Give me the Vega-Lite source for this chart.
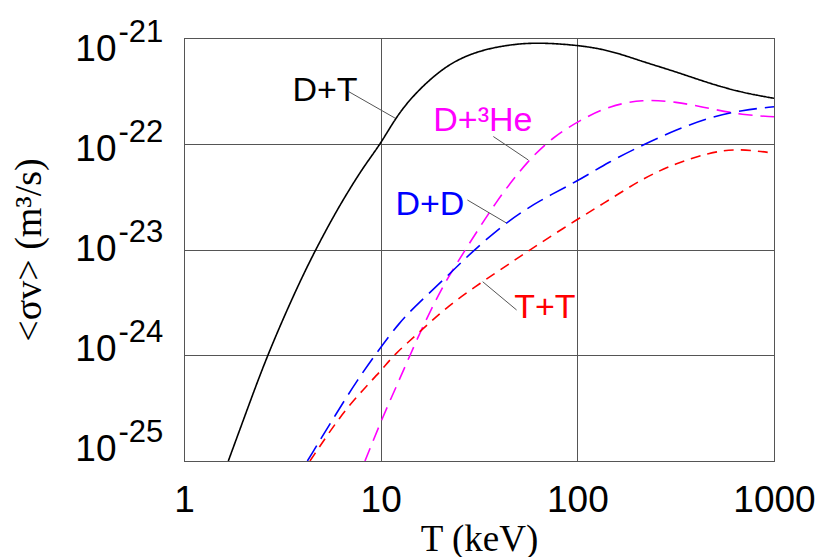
{
  "$schema": "https://vega.github.io/schema/vega-lite/v6.json",
  "width": 590,
  "height": 423,
  "autosize": {"type": "none"},
  "padding": {"left": 184, "top": 38, "right": 45, "bottom": 96},
  "background": "white",
  "config": {"view": {"stroke": "#222222", "strokeWidth": 1}},
  "datasets": {
    "curves": [
      {"reaction": "D+T", "T": 1.68, "sv": 1.0e-25},
      {"reaction": "D+T", "T": 2.10, "sv": 3.10e-25},
      {"reaction": "D+T", "T": 2.65, "sv": 1.0e-24},
      {"reaction": "D+T", "T": 3.70, "sv": 4.14e-24},
      {"reaction": "D+T", "T": 4.67, "sv": 1.0e-23},
      {"reaction": "D+T", "T": 5.79, "sv": 2.10e-23},
      {"reaction": "D+T", "T": 6.77, "sv": 3.44e-23},
      {"reaction": "D+T", "T": 8.23, "sv": 6.15e-23},
      {"reaction": "D+T", "T": 10.0, "sv": 1.0e-22},
      {"reaction": "D+T", "T": 11.8, "sv": 1.71e-22},
      {"reaction": "D+T", "T": 14.6, "sv": 2.89e-22},
      {"reaction": "D+T", "T": 21.7, "sv": 5.68e-22},
      {"reaction": "D+T", "T": 32.0, "sv": 7.69e-22},
      {"reaction": "D+T", "T": 47.2, "sv": 8.77e-22},
      {"reaction": "D+T", "T": 64.6, "sv": 9.04e-22},
      {"reaction": "D+T", "T": 99.0, "sv": 8.59e-22},
      {"reaction": "D+T", "T": 145, "sv": 7.69e-22},
      {"reaction": "D+T", "T": 215, "sv": 5.97e-22},
      {"reaction": "D+T", "T": 317, "sv": 4.80e-22},
      {"reaction": "D+T", "T": 469, "sv": 3.72e-22},
      {"reaction": "D+T", "T": 692, "sv": 3.04e-22},
      {"reaction": "D+T", "T": 1000, "sv": 2.69e-22},

      {"reaction": "D+3He", "T": 8.32, "sv": 1.0e-25},
      {"reaction": "D+3He", "T": 10.3, "sv": 2.67e-25},
      {"reaction": "D+3He", "T": 12.1, "sv": 5.21e-25},
      {"reaction": "D+3He", "T": 14.1, "sv": 1.0e-24},
      {"reaction": "D+3He", "T": 16.5, "sv": 1.93e-24},
      {"reaction": "D+3He", "T": 20.8, "sv": 4.60e-24},
      {"reaction": "D+3He", "T": 25.3, "sv": 8.24e-24},
      {"reaction": "D+3He", "T": 38.9, "sv": 2.93e-23},
      {"reaction": "D+3He", "T": 56.3, "sv": 7.01e-23},
      {"reaction": "D+3He", "T": 75.4, "sv": 1.16e-22},
      {"reaction": "D+3He", "T": 103, "sv": 1.67e-22},
      {"reaction": "D+3He", "T": 145, "sv": 2.28e-22},
      {"reaction": "D+3He", "T": 215, "sv": 2.63e-22},
      {"reaction": "D+3He", "T": 317, "sv": 2.50e-22},
      {"reaction": "D+3He", "T": 469, "sv": 2.16e-22},
      {"reaction": "D+3He", "T": 692, "sv": 1.87e-22},
      {"reaction": "D+3He", "T": 1000, "sv": 1.80e-22},

      {"reaction": "D+D", "T": 4.24, "sv": 1.0e-25},
      {"reaction": "D+D", "T": 6.02, "sv": 2.92e-25},
      {"reaction": "D+D", "T": 7.6, "sv": 5.81e-25},
      {"reaction": "D+D", "T": 9.55, "sv": 1.06e-24},
      {"reaction": "D+D", "T": 12.5, "sv": 2.07e-24},
      {"reaction": "D+D", "T": 15.8, "sv": 3.20e-24},
      {"reaction": "D+D", "T": 20.8, "sv": 5.13e-24},
      {"reaction": "D+D", "T": 28.5, "sv": 9.18e-24},
      {"reaction": "D+D", "T": 43.7, "sv": 1.83e-23},
      {"reaction": "D+D", "T": 64.6, "sv": 2.93e-23},
      {"reaction": "D+D", "T": 99.0, "sv": 4.37e-23},
      {"reaction": "D+D", "T": 145, "sv": 6.76e-23},
      {"reaction": "D+D", "T": 215, "sv": 9.73e-23},
      {"reaction": "D+D", "T": 317, "sv": 1.35e-22},
      {"reaction": "D+D", "T": 469, "sv": 1.78e-22},
      {"reaction": "D+D", "T": 692, "sv": 2.08e-22},
      {"reaction": "D+D", "T": 1000, "sv": 2.24e-22},

      {"reaction": "T+T", "T": 4.37, "sv": 1.0e-25},
      {"reaction": "T+T", "T": 6.26, "sv": 2.71e-25},
      {"reaction": "T+T", "T": 8.23, "sv": 4.84e-25},
      {"reaction": "T+T", "T": 10.3, "sv": 7.50e-25},
      {"reaction": "T+T", "T": 11.6, "sv": 1.0e-24},
      {"reaction": "T+T", "T": 15.8, "sv": 1.66e-24},
      {"reaction": "T+T", "T": 21.7, "sv": 2.87e-24},
      {"reaction": "T+T", "T": 32.0, "sv": 4.79e-24},
      {"reaction": "T+T", "T": 47.2, "sv": 7.76e-24},
      {"reaction": "T+T", "T": 62.0, "sv": 1.09e-23},
      {"reaction": "T+T", "T": 99.0, "sv": 1.91e-23},
      {"reaction": "T+T", "T": 145, "sv": 2.93e-23},
      {"reaction": "T+T", "T": 215, "sv": 4.71e-23},
      {"reaction": "T+T", "T": 317, "sv": 6.53e-23},
      {"reaction": "T+T", "T": 469, "sv": 8.22e-23},
      {"reaction": "T+T", "T": 650, "sv": 9.06e-23},
      {"reaction": "T+T", "T": 1000, "sv": 8.13e-23}
    ],
    "labels": [
      {"reaction": "D+T", "text": "D+T", "T": 5.21, "sv": 2.55e-22},
      {"reaction": "D+3He", "text": "D+³He", "T": 33.1, "sv": 1.32e-22},
      {"reaction": "D+D", "text": "D+D", "T": 17.8, "sv": 2.12e-23},
      {"reaction": "T+T", "text": "T+T", "T": 68.4, "sv": 2.25e-24}
    ],
    "leaders": [
      {"reaction": "D+T", "T1": 6.90, "sv1": 3.10e-22, "T2": 11.82, "sv2": 1.75e-22},
      {"reaction": "D+3He", "T1": 37.4, "sv1": 1.17e-22, "T2": 56.3, "sv2": 7.02e-23},
      {"reaction": "D+D", "T1": 27.6, "sv1": 2.94e-23, "T2": 43.4, "sv2": 1.79e-23},
      {"reaction": "T+T", "T1": 33.0, "sv1": 4.96e-24, "T2": 49.1, "sv2": 2.68e-24}
    ],
    "decades": [
      {"p": 1e-21, "base": "10", "exp": "-21"},
      {"p": 1e-22, "base": "10", "exp": "-22"},
      {"p": 1e-23, "base": "10", "exp": "-23"},
      {"p": 1e-24, "base": "10", "exp": "-24"},
      {"p": 1e-25, "base": "10", "exp": "-25"}
    ]
  },
  "layer": [
    {
      "layer": [
        {
          "data": {"name": "curves"},
          "mark": {"type": "line", "strokeWidth": 1.6, "interpolate": "basis", "clip": true},
          "encoding": {
            "x": {
              "field": "T", "type": "quantitative",
              "scale": {"type": "log", "domain": [1, 1000]},
              "axis": {
                "values": [1, 10, 100, 1000],
                "format": "d",
                "title": "T (keV)",
                "titleFont": "Liberation Serif",
                "titleFontSize": 37,
                "titleFontWeight": "normal",
                "titleColor": "#000000",
                "titleBaseline": "alphabetic",
                "titleY": 89,
                "labelFont": "Liberation Sans",
                "labelFontSize": 37,
                "labelColor": "#000000",
                "labelBaseline": "alphabetic",
                "labelPadding": 50,
                "labelFlush": false,
                "labelOverlap": false,
                "ticks": false,
                "tickSize": 0,
                "domain": false,
                "grid": true,
                "gridColor": "#555555",
                "gridOpacity": 1,
                "gridWidth": 1
              }
            },
            "y": {
              "field": "sv", "type": "quantitative",
              "scale": {"type": "log", "domain": [1e-25, 1e-21]},
              "axis": {
                "values": [1e-25, 1e-24, 1e-23, 1e-22, 1e-21],
                "labels": false,
                "ticks": false,
                "tickSize": 0,
                "domain": false,
                "grid": true,
                "gridColor": "#555555",
                "gridOpacity": 1,
                "gridWidth": 1,
                "title": "<σv> (m³/s)",
                "titleFont": "Liberation Serif",
                "titleFontSize": 38,
                "titleFontWeight": "normal",
                "titleColor": "#000000",
                "titleAngle": 270,
                "titleAlign": "center",
                "titleBaseline": "alphabetic",
                "titleX": -143.5,
                "titleY": 211.5
              }
            },
            "color": {
              "field": "reaction", "type": "nominal",
              "scale": {"domain": ["D+T", "D+3He", "D+D", "T+T"], "range": ["#000000", "#ff00ff", "#0000ff", "#ff0000"]},
              "legend": null
            },
            "strokeDash": {
              "field": "reaction", "type": "nominal",
              "scale": {"domain": ["D+T", "D+3He", "D+D", "T+T"], "range": [[1, 0], [14, 8], [18, 8], [10, 7]]},
              "legend": null
            }
          }
        },
        {
          "data": {"name": "leaders"},
          "mark": {"type": "rule", "color": "#555555", "strokeWidth": 1},
          "encoding": {
            "x": {"field": "T1", "type": "quantitative"},
            "x2": {"field": "T2"},
            "y": {"field": "sv1", "type": "quantitative"},
            "y2": {"field": "sv2"}
          }
        },
        {
          "data": {"name": "labels"},
          "mark": {"type": "text", "font": "Liberation Sans", "fontSize": 34, "align": "center", "baseline": "alphabetic"},
          "encoding": {
            "x": {"field": "T", "type": "quantitative"},
            "y": {"field": "sv", "type": "quantitative"},
            "text": {"field": "text"},
            "color": {"field": "reaction", "type": "nominal", "legend": null}
          }
        }
      ]
    },
    {
      "data": {"name": "decades"},
      "encoding": {
        "x": {"datum": 1, "type": "quantitative"},
        "y": {
          "field": "p", "type": "quantitative",
          "scale": {"type": "log", "domain": [7.46e-26, 1.247e-21]},
          "axis": null
        }
      },
      "layer": [
        {
          "mark": {"type": "text", "font": "Liberation Sans", "fontSize": 37, "align": "right", "baseline": "alphabetic", "dx": -67.5, "dy": 13, "color": "#000000", "clip": false},
          "encoding": {"text": {"field": "base"}}
        },
        {
          "mark": {"type": "text", "font": "Liberation Sans", "fontSize": 31, "align": "left", "baseline": "alphabetic", "dx": -65.5, "dy": -6, "color": "#000000", "clip": false},
          "encoding": {"text": {"field": "exp"}}
        }
      ]
    }
  ],
  "resolve": {"scale": {"y": "independent"}}
}
